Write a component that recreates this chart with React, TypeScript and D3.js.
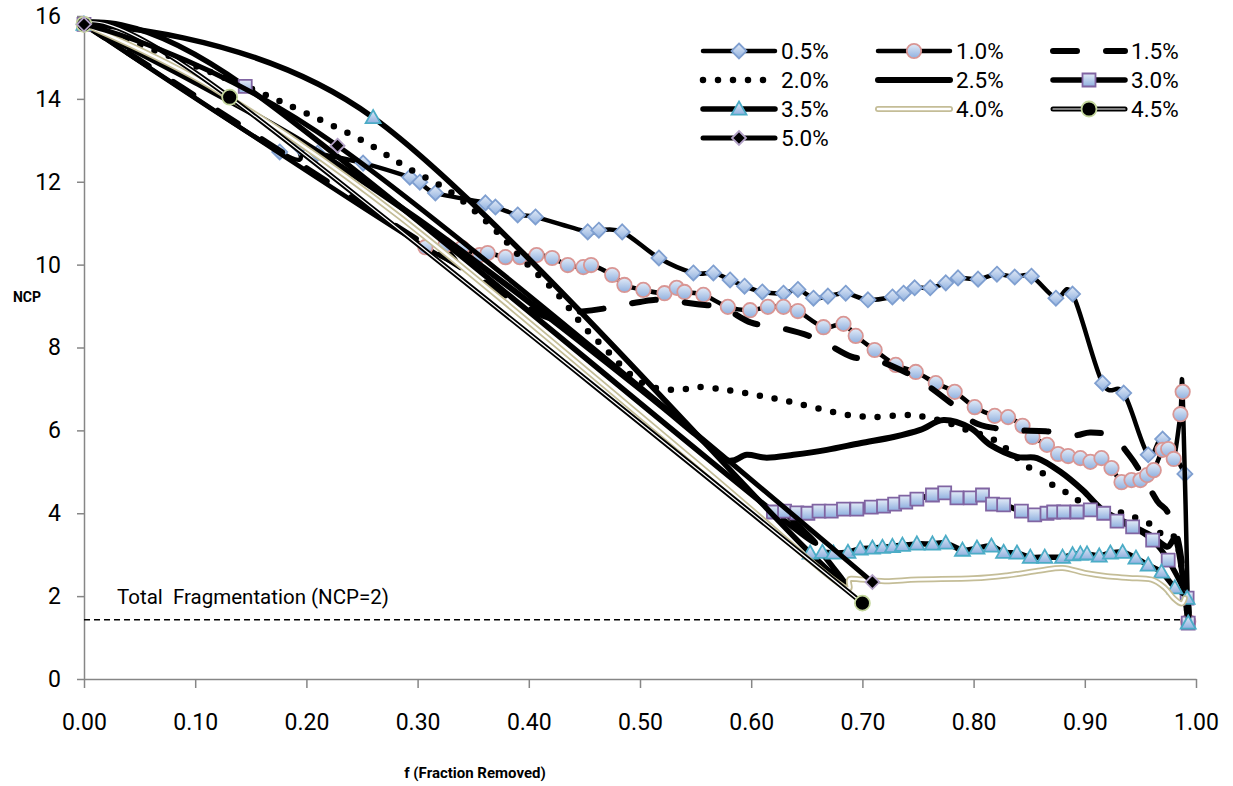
import React, { useRef, useEffect } from 'react';
import * as d3 from 'd3';

type Pt = [number, number];

// legend labels, in series order
const seriesNames = ['0.5%', '1.0%', '1.5%', '2.0%', '2.5%', '3.0%', '3.5%', '4.0%', '4.5%', '5.0%'];

// [f, NCP]
const s05: Pt[] = [[0, 15.8], [0.176, 12.72], [0.194, 12.84], [0.21, 12.69], [0.251, 12.45], [0.293, 12.11], [0.302, 11.99], [0.316, 11.73], [0.361, 11.49], [0.37, 11.39], [0.39, 11.2], [0.406, 11.15], [0.453, 10.79], [0.463, 10.83], [0.484, 10.79], [0.517, 10.16], [0.548, 9.8], [0.566, 9.8], [0.581, 9.63], [0.594, 9.48], [0.61, 9.34], [0.629, 9.31], [0.642, 9.4], [0.656, 9.19], [0.669, 9.24], [0.685, 9.31], [0.705, 9.15], [0.727, 9.22], [0.737, 9.31], [0.747, 9.44], [0.761, 9.44], [0.775, 9.56], [0.786, 9.68], [0.804, 9.65], [0.821, 9.77], [0.837, 9.7], [0.852, 9.72], [0.874, 9.19], [0.889, 9.29], [0.916, 7.14], [0.935, 6.9], [0.957, 5.41], [0.97, 5.79], [0.99, 4.95]];
const s10: Pt[] = [[0, 15.8], [0.307, 10.42], [0.325, 10.47], [0.34, 10.4], [0.356, 10.23], [0.363, 10.28], [0.379, 10.18], [0.392, 10.18], [0.407, 10.23], [0.421, 10.16], [0.435, 9.99], [0.449, 9.94], [0.456, 9.99], [0.475, 9.75], [0.486, 9.51], [0.503, 9.39], [0.522, 9.31], [0.533, 9.44], [0.54, 9.34], [0.557, 9.27], [0.579, 8.98], [0.599, 8.9], [0.615, 8.98], [0.629, 8.98], [0.642, 8.88], [0.665, 8.49], [0.683, 8.57], [0.694, 8.28], [0.711, 7.94], [0.73, 7.58], [0.748, 7.41], [0.766, 7.14], [0.783, 6.93], [0.801, 6.56], [0.819, 6.35], [0.831, 6.32], [0.844, 6.11], [0.853, 5.84], [0.866, 5.65], [0.876, 5.43], [0.885, 5.38], [0.896, 5.33], [0.905, 5.24], [0.915, 5.33], [0.924, 5.09], [0.933, 4.75], [0.942, 4.8], [0.95, 4.8], [0.956, 4.92], [0.962, 5.04], [0.97, 5.53], [0.975, 5.55], [0.98, 5.31], [0.986, 6.39], [0.988, 6.93], [0.993, 1.38]];
const s15: Pt[] = [[0, 15.8], [0.15, 13.2], [0.3, 10.6], [0.41, 8.8], [0.44, 8.85], [0.47, 8.95], [0.5, 9.1], [0.52, 9.15], [0.55, 9.05], [0.575, 8.95], [0.6, 8.6], [0.63, 8.45], [0.66, 8.2], [0.69, 7.78], [0.71, 7.72], [0.735, 7.45], [0.755, 7.15], [0.78, 6.65], [0.8, 6.2], [0.82, 6.05], [0.84, 6.0], [0.865, 5.98], [0.89, 5.88], [0.905, 5.95], [0.925, 5.85], [0.94, 5.4], [0.95, 5.0], [0.965, 4.3], [0.975, 4.0], [0.985, 3.2], [0.993, 1.4]];
const s20: Pt[] = [[0, 15.8], [0.08, 15.0], [0.15, 14.25], [0.2, 13.65], [0.25, 13.0], [0.29, 12.35], [0.33, 11.75], [0.365, 10.96], [0.395, 10.11], [0.425, 9.31], [0.45, 8.49], [0.47, 7.94], [0.49, 7.38], [0.51, 7.05], [0.535, 6.98], [0.55, 7.05], [0.565, 7.02], [0.58, 6.97], [0.605, 6.85], [0.63, 6.72], [0.656, 6.56], [0.683, 6.39], [0.71, 6.32], [0.738, 6.37], [0.755, 6.33], [0.775, 6.2], [0.795, 6.0], [0.815, 5.82], [0.83, 5.55], [0.849, 5.12], [0.862, 4.97], [0.871, 4.68], [0.884, 4.49], [0.895, 4.3], [0.915, 4.1], [0.935, 4.0], [0.96, 3.72], [0.97, 3.47], [0.983, 3.28], [0.993, 1.4]];
const s25: Pt[] = [[0, 15.8], [0.1, 14.4], [0.2, 12.9], [0.3, 11.1], [0.4, 9.1], [0.5, 7.0], [0.55, 5.9], [0.578, 5.28], [0.596, 5.41], [0.614, 5.34], [0.638, 5.41], [0.668, 5.53], [0.698, 5.69], [0.728, 5.84], [0.752, 6.01], [0.773, 6.25], [0.797, 6.06], [0.815, 5.65], [0.839, 5.36], [0.857, 5.33], [0.878, 5.0], [0.898, 4.56], [0.916, 4.08], [0.938, 3.76], [0.959, 3.47], [0.974, 3.19], [0.983, 3.28], [0.993, 1.4]];
const s30: Pt[] = [[0, 15.8], [0.145, 14.3], [0.62, 4.03], [0.63, 4.05], [0.641, 4.01], [0.651, 4.0], [0.661, 4.05], [0.672, 4.05], [0.683, 4.1], [0.695, 4.1], [0.708, 4.15], [0.719, 4.17], [0.729, 4.22], [0.739, 4.27], [0.749, 4.34], [0.763, 4.44], [0.774, 4.49], [0.785, 4.37], [0.797, 4.37], [0.808, 4.44], [0.817, 4.22], [0.827, 4.2], [0.843, 4.05], [0.855, 3.96], [0.866, 4.0], [0.872, 4.03], [0.881, 4.03], [0.893, 4.03], [0.905, 4.08], [0.917, 4.0], [0.929, 3.81], [0.943, 3.67], [0.961, 3.35], [0.975, 2.87], [0.992, 1.95], [0.993, 1.35]];
const s35: Pt[] = [[0, 15.8], [0.26, 13.55], [0.653, 3.04], [0.664, 3.06], [0.674, 3.04], [0.687, 3.06], [0.698, 3.14], [0.709, 3.16], [0.718, 3.18], [0.727, 3.2], [0.736, 3.23], [0.749, 3.26], [0.763, 3.26], [0.775, 3.28], [0.79, 3.11], [0.803, 3.16], [0.816, 3.21], [0.827, 3.06], [0.839, 3.04], [0.851, 2.94], [0.864, 2.94], [0.88, 2.94], [0.889, 3.0], [0.896, 3.02], [0.902, 3.02], [0.913, 2.97], [0.923, 3.04], [0.934, 3.06], [0.946, 2.92], [0.957, 2.75], [0.969, 2.58], [0.981, 2.2], [0.992, 1.95], [0.993, 1.35]];
const s40: Pt[] = [[0, 15.8], [0.12, 14.2], [0.284, 11.15], [0.548, 5.28], [0.675, 2.38], [0.69, 2.42], [0.72, 2.36], [0.75, 2.4], [0.8, 2.43], [0.83, 2.5], [0.86, 2.62], [0.88, 2.68], [0.9, 2.56], [0.92, 2.48], [0.94, 2.44], [0.96, 2.4], [0.972, 2.2], [0.98, 1.95], [0.987, 1.82], [0.99, 1.95]];
const s45: Pt[] = [[0, 15.8], [0.131, 14.04], [0.7, 1.83]];
const s50: Pt[] = [[0, 15.8], [0.228, 12.87], [0.709, 2.34]];

const xTicks = [0, 0.1, 0.2, 0.3, 0.4, 0.5, 0.6, 0.7, 0.8, 0.9, 1.0];
const yTicks = [0, 2, 4, 6, 8, 10, 12, 14, 16];
const fragmentationLevel = 1.43;

const FONT = 'Roboto, "Noto Sans", sans-serif';

type Style = {
    width?: number;
    dash?: string;
    double?: [string, number, string, number];
    marker?: 'diamond' | 'circle' | 'square' | 'triangle';
    mFill?: string;
    mStroke?: string;
    mSize?: number;
};

const styles: Style[] = [
    { width: 4.5, marker: 'diamond', mFill: 'url(#mk)', mStroke: '#7f9fd0', mSize: 7.5 },
    { width: 4.5, marker: 'circle', mFill: 'url(#mk)', mStroke: '#d99694', mSize: 7.2 },
    { width: 6, dash: '24 29' },
    { width: 6.5, dash: '0 15' },
    { width: 6 },
    { width: 5.5, marker: 'square', mFill: 'url(#mk)', mStroke: '#8064a2', mSize: 6.5 },
    { width: 5.5, marker: 'triangle', mFill: 'url(#mk)', mStroke: '#4bacc6', mSize: 7.5 },
    { double: ['#c4bd97', 6, '#ffffff', 2.5] },
    { double: ['#000000', 5, '#ffffff', 1.2], marker: 'circle', mFill: '#000', mStroke: '#c3d69b', mSize: 7.5 },
    { width: 5, marker: 'diamond', mFill: '#000', mStroke: '#b3a2c7', mSize: 7 },
];

const allSeries = [s05, s10, s15, s20, s25, s30, s35, s40, s45, s50];

function markerPath(shape: string, cx: number, cy: number, s: number) {
    if (shape === 'diamond') return `M${cx},${cy - s}L${cx + s},${cy}L${cx},${cy + s}L${cx - s},${cy}Z`;
    if (shape === 'square') return `M${cx - s},${cy - s}H${cx + s}V${cy + s}H${cx - s}Z`;
    if (shape === 'triangle') return `M${cx},${cy - s}L${cx + s},${cy + s * 0.75}L${cx - s},${cy + s * 0.75}Z`;
    return '';
}

function drawMarker(g: any, st: Style, cx: number, cy: number) {
    if (!st.marker) return;
    if (st.marker === 'circle') {
        g.append('circle').attr('cx', cx).attr('cy', cy).attr('r', st.mSize)
            .attr('fill', st.mFill).attr('stroke', st.mStroke).attr('stroke-width', 1.8);
    } else {
        g.append('path').attr('d', markerPath(st.marker, cx, cy, st.mSize!))
            .attr('fill', st.mFill).attr('stroke', st.mStroke).attr('stroke-width', 1.8);
    }
}

function drawLine(g: any, st: Style, d: string) {
    if (st.double) {
        const [c1, w1, c2, w2] = st.double;
        g.append('path').attr('d', d).attr('fill', 'none').attr('stroke', c1).attr('stroke-width', w1)
            .attr('stroke-linecap', 'round').attr('stroke-linejoin', 'round');
        g.append('path').attr('d', d).attr('fill', 'none').attr('stroke', c2).attr('stroke-width', w2)
            .attr('stroke-linecap', 'round').attr('stroke-linejoin', 'round');
    } else {
        g.append('path').attr('d', d).attr('fill', 'none').attr('stroke', '#000').attr('stroke-width', st.width)
            .attr('stroke-dasharray', st.dash || null)
            .attr('stroke-linecap', 'round').attr('stroke-linejoin', 'round');
    }
}

const NcpChart = () => {
    const svgRef = useRef<SVGSVGElement>(null);

    useEffect(() => {
        const width = 1233, height = 786;
        const svg = d3.select(svgRef.current).attr('width', width).attr('height', height);
        svg.selectAll('*').remove();

        const defs = svg.append('defs');
        const grad = defs.append('linearGradient').attr('id', 'mk')
            .attr('x1', 0).attr('y1', 0).attr('x2', 0).attr('y2', 1);
        grad.append('stop').attr('offset', '0%').attr('stop-color', '#e3ebf7');
        grad.append('stop').attr('offset', '100%').attr('stop-color', '#8fb0df');

        const x = d3.scaleLinear().domain([0, 1]).range([84, 1196]);
        const y = d3.scaleLinear().domain([0, 16]).range([679, 16]);

        // axes
        const xAxis = svg.append('g').attr('transform', `translate(0,${y(0)})`)
            .call(d3.axisBottom(x).tickValues(xTicks).tickFormat(d3.format('.2f'))
                .tickSizeInner(9).tickSizeOuter(0).tickPadding(26));
        const yAxis = svg.append('g').attr('transform', `translate(${x(0)},0)`)
            .call(d3.axisLeft(y).tickValues(yTicks).tickFormat(d3.format('d'))
                .tickSizeInner(7).tickSizeOuter(0).tickPadding(16));
        [xAxis, yAxis].forEach(a => {
            a.select('.domain').attr('stroke', '#868686').attr('stroke-width', 1.5);
            a.selectAll('.tick line').attr('stroke', '#868686').attr('stroke-width', 1.5);
            a.selectAll('.tick text').attr('fill', '#000').attr('font-size', 23).attr('font-family', FONT);
        });

        // total fragmentation reference line
        svg.append('line')
            .attr('x1', x(0)).attr('x2', x(1))
            .attr('y1', y(fragmentationLevel)).attr('y2', y(fragmentationLevel))
            .attr('stroke', '#000').attr('stroke-width', 1.5).attr('stroke-dasharray', '6 4');
        svg.append('text')
            .attr('x', 117).attr('y', 604)
            .attr('font-family', FONT).attr('font-size', 20.5)
            .style('white-space', 'pre')
            .text('Total  Fragmentation (NCP=2)');

        // series
        const line = d3.line<Pt>().x(d => x(d[0])).y(d => y(d[1])).curve(d3.curveCardinal.tension(0));
        allSeries.forEach((data, i) => {
            const st = styles[i];
            const g = svg.append('g');
            drawLine(g, st, line(data) as string);
            data.forEach(d => drawMarker(g, st, x(d[0]), y(d[1])));
        });

        // legend
        const colX = [703, 878, 1053];
        const rowY = [51, 80, 109, 138];
        seriesNames.forEach((name, i) => {
            const st = styles[i];
            const lx = colX[i % 3], ly = rowY[Math.floor(i / 3)];
            const g = svg.append('g');
            drawLine(g, st, `M${lx},${ly}L${lx + 72},${ly}`);
            drawMarker(g, st, lx + 36, ly);
            g.append('text').attr('x', lx + 78).attr('y', ly + 8)
                .attr('font-family', FONT).attr('font-size', 22.5).text(name);
        });

        // axis titles
        svg.append('text').attr('x', 27).attr('y', 302).attr('text-anchor', 'middle')
            .attr('font-family', FONT).attr('font-size', 14).attr('font-weight', 'bold').text('NCP');
        svg.append('text').attr('x', 475).attr('y', 778).attr('text-anchor', 'middle')
            .attr('font-family', FONT).attr('font-size', 15).attr('font-weight', 'bold').text('f (Fraction Removed)');
    }, []);

    return <svg ref={svgRef} style={{ position: 'absolute', left: 0, top: 0, background: '#fff' }}></svg>;
};

export default function App() {
    return <NcpChart />;
}
